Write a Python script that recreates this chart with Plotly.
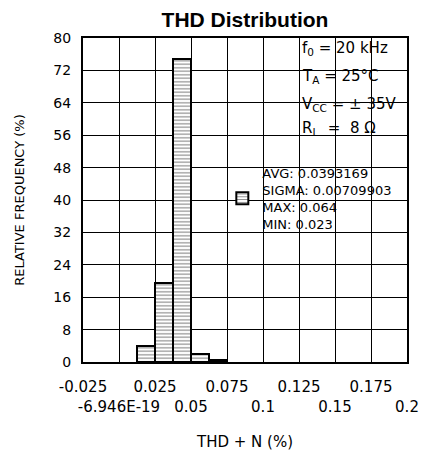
import plotly.graph_objects as go

# Data
bin_left = [0.0125, 0.025, 0.0375, 0.05, 0.0625]
bin_width = 0.0125
freq = [4.0, 19.5, 74.8, 2.0, 0.4]

x_tickvals = [-0.025, 0.0, 0.025, 0.05, 0.075, 0.1, 0.125, 0.15, 0.175, 0.2]
x_ticktext = ["-0.025", "<br>-6.946E-19", "0.025", "<br>0.05", "0.075",
              "<br>0.1", "0.125", "<br>0.15", "0.175", "<br>0.2"]
y_tickvals = [0, 8, 16, 24, 32, 40, 48, 56, 64, 72, 80]

stats_text = "AVG: 0.0393169<br>SIGMA: 0.00709903<br>MAX: 0.064<br>MIN: 0.023"
cond_lines = ["f<sub>0</sub> = 20 kHz", "T<sub>A</sub> = 25°C",
              "V<sub>CC</sub> = ± 35V", "R<sub>L</sub>  =  8 Ω"]

FONT = "DejaVu Sans"

fig = go.Figure()
fig.add_trace(go.Bar(
    x=bin_left, y=freq, width=bin_width, offset=0,
    name=stats_text,
    marker=dict(color="white",
                line=dict(color="black", width=2),
                pattern=dict(shape="-", fgcolor="black", bgcolor="white",
                             size=3.5, solidity=0.3)),
    showlegend=True,
))

# white panels covering gridlines behind the text blocks
fig.add_shape(type="rect", xref="paper", yref="paper", x0=0.674, x1=0.952,
              y0=0.676, y1=1.0, fillcolor="white", line_width=0, layer="between")
fig.add_shape(type="rect", xref="paper", yref="paper", x0=0.5, x1=1.0,
              y0=0.361, y1=0.633, fillcolor="white", line_width=0, layer="between")

ys = [0.969, 0.880, 0.796, 0.722]
for t, yy in zip(cond_lines, ys):
    fig.add_annotation(text=t, xref="paper", yref="paper", x=0.671, y=yy,
                       xanchor="left", yanchor="middle", showarrow=False,
                       font=dict(family=FONT, size=15, color="black"))

fig.update_layout(
    width=422, height=455,
    margin=dict(l=83, r=15, t=38, b=93),
    paper_bgcolor="white", plot_bgcolor="white",
    title=dict(text="<b>THD Distribution</b>", x=0.5, xref="paper",
               y=0.956, yref="container", yanchor="middle",
               font=dict(family="Liberation Sans", size=21, color="black")),
    bargap=0,
    legend=dict(x=0.43, y=0.63, xanchor="left", yanchor="top",
                bgcolor="rgba(0,0,0,0)", borderwidth=0,
                font=dict(family=FONT, size=13, color="black")),
    font=dict(family=FONT, color="black"),
)
fig.update_xaxes(range=[-0.025, 0.2], tickvals=x_tickvals, ticktext=x_ticktext,
                 tickangle=0, showgrid=True, gridcolor="black", gridwidth=1,
                 showline=True, linecolor="black", linewidth=2, mirror=True,
                 zeroline=False, ticks="", ticklabelstandoff=10,
                 ticklabeloverflow="allow", automargin=False,
                 tickfont=dict(family=FONT, size=15, color="black"),
                 title=dict(text="THD + N (%)", standoff=22,
                            font=dict(family=FONT, size=15, color="black")))
fig.update_yaxes(range=[0, 80], tickvals=y_tickvals,
                 showgrid=True, gridcolor="black", gridwidth=1,
                 showline=True, linecolor="black", linewidth=2, mirror=True,
                 zeroline=False, ticks="", ticklabelstandoff=7,
                 automargin=False,
                 tickfont=dict(family=FONT, size=14, color="black"),
                 title=dict(text="RELATIVE FREQUENCY (%)", standoff=26,
                            font=dict(family=FONT, size=13, color="black")))

fig.write_html("out.html",
               config={"displayModeBar": False},
               post_script="document.body.style.margin='0';"
                           "document.body.style.overflow='hidden';")
